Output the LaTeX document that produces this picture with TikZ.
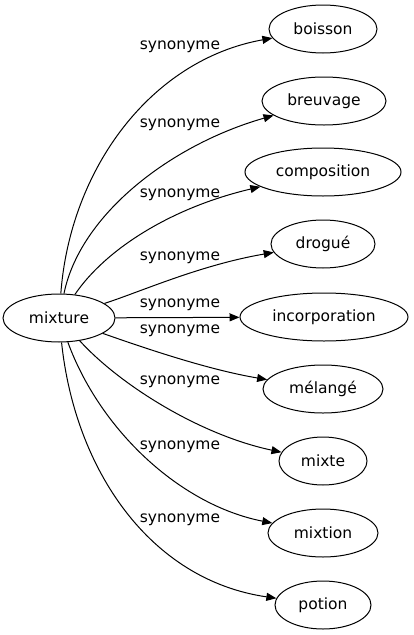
\documentclass[tikz,border=0pt]{standalone}
\usepackage{fontspec}
\setmainfont{DejaVu Sans}
\usetikzlibrary{shapes.geometric,arrows.meta}
\begin{document}
\begin{tikzpicture}[x=1pt,y=-1pt,
  word/.style={ellipse,draw,line width=1pt,inner sep=0pt,minimum height=48pt,font=\fontsize{15.5}{18}\selectfont},
  rel/.style={line width=1pt,-{Triangle[length=10pt,width=8pt]}},
  lab/.style={font=\fontsize{15.5}{18}\selectfont,inner sep=0pt}]
\useasboundingbox (0,0) rectangle (413,635);
\node[word,minimum width=112pt] (m) at (59,318) {mixture};
\node[word,minimum width=108pt] (b1) at (323,29) {boisson};
\node[word,minimum width=124pt] (b2) at (324,101) {breuvage};
\node[word,minimum width=156pt] (b3) at (323,172) {composition};
\node[word,minimum width=104pt] (b4) at (323,244) {drogué};
\node[word,minimum width=168pt] (b5) at (324,317) {incorporation};
\node[word,minimum width=120pt] (b6) at (323,389) {mélangé};
\node[word,minimum width=88pt] (b7) at (323,461) {mixte};
\node[word,minimum width=110pt] (b8) at (323,533) {mixtion};
\node[word,minimum width=96pt] (b9) at (323,605) {potion};
\draw[rel] (m) .. controls (70,170) and (150,60) .. (b1);
\draw[rel] (m) .. controls (80,215) and (170,145) .. (b2);
\draw[rel] (m) .. controls (105,250) and (170,208) .. (b3);
\draw[rel] (m) .. controls (140,292) and (200,265) .. (b4);
\draw[rel] (m) -- (b5);
\draw[rel] (m) .. controls (150,350) and (210,370) .. (b6);
\draw[rel] (m) .. controls (120,385) and (200,435) .. (b7);
\draw[rel] (m) .. controls (100,430) and (180,505) .. (b8);
\draw[rel] (m) .. controls (75,470) and (150,580) .. (b9);
\node[lab] (l1) at (180,47) {synonyme};
\node[lab] (l2) at (180,125) {synonyme};
\node[lab] (l3) at (180,195) {synonyme};
\node[lab] (l4) at (180,258) {synonyme};
\node[lab] (l5) at (180,305) {synonyme};
\node[lab] (l6) at (180,331) {synonyme};
\node[lab] (l7) at (180,382) {synonyme};
\node[lab] (l8) at (180,447) {synonyme};
\node[lab] (l9) at (180,520) {synonyme};
\end{tikzpicture}
\end{document}
